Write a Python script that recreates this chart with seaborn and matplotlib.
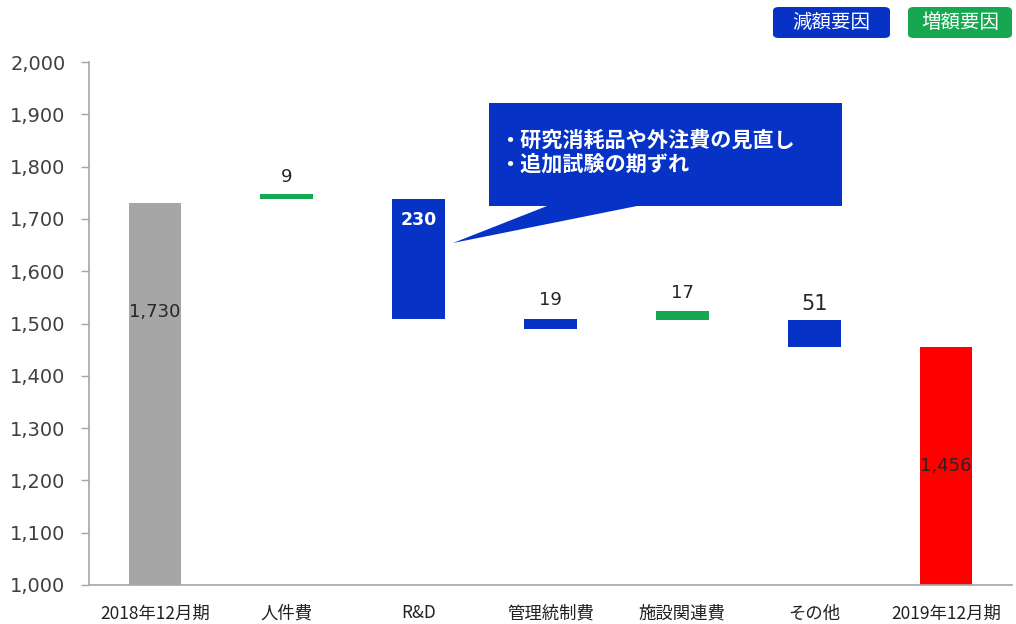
import matplotlib
matplotlib.use("Agg")
import matplotlib.pyplot as plt
from matplotlib.patches import Polygon, FancyBboxPatch
from matplotlib.ticker import FuncFormatter, MultipleLocator
import seaborn as sns

# ---- data ----
categories = ["2018年12月期", "人件費", "R&D", "管理統制費", "施設関連費", "その他", "2019年12月期"]
values = [1730, 9, -230, -19, 17, -51, 1456]
bar_base = [0, 1739, 1509, 1490, 1507, 1456, 0]
bar_colors = ["#A6A6A6", "#16A850", "#0632C6", "#0632C6", "#16A850", "#0632C6", "#FF0000"]
value_labels = ["1,730", "9", "230", "19", "17", "51", "1,456"]
callout_lines = ["・研究消耗品や外注費の見直し", "・追加試験の期ずれ"]
legend_items = ["減額要因", "増額要因"]
legend_colors = ["#0632C6", "#16A850"]

heights = [abs(v) for v in values]

sns.set_theme(style="white")
plt.rcParams["font.family"] = ["DejaVu Sans", "Noto Sans CJK JP"]

W, H = 1016, 624
fig = plt.figure(figsize=(W / 100, H / 100), dpi=100)
ax = fig.add_axes([89 / W, 1 - 585 / H, (1012 - 89) / W, (585 - 62) / H])

sns.barplot(x=categories, y=heights, bottom=bar_base, order=categories,
            color="#A6A6A6", width=0.40, saturation=1, ax=ax)
for patch, c in zip(ax.patches, bar_colors):
    patch.set_facecolor(c)
    patch.set_edgecolor("none")

ax.set_xlim(-0.5, len(categories) - 0.5)
ax.set_ylim(1000, 2000)
ax.yaxis.set_major_locator(MultipleLocator(100))
ax.yaxis.set_major_formatter(FuncFormatter(lambda v, p: f"{int(v):,}"))

for s in ["top", "right"]:
    ax.spines[s].set_visible(False)
for s in ["left", "bottom"]:
    ax.spines[s].set_color("#A6A6A6")
    ax.spines[s].set_linewidth(1.2)

ax.tick_params(axis="y", which="major", left=True, length=6, width=1, color="#A6A6A6",
               labelsize=14, labelcolor="#404040", pad=11)
ax.tick_params(axis="x", bottom=False, labelsize=12.5, labelcolor="#222222", pad=8)
for lbl in ax.get_xticklabels():
    lbl.set_fontfamily(["Noto Sans CJK JP", "DejaVu Sans"])
ax.set_xlabel("")
ax.set_ylabel("")

# ---- value labels ----
tops = [b + h for b, h in zip(bar_base, heights)]
ax.text(0, 1522, value_labels[0], ha="center", va="center", fontsize=13, color="#262626")
ax.text(6, (1000 + tops[6]) / 2, value_labels[6], ha="center", va="center", fontsize=13, color="#262626")
ax.annotate(value_labels[2], (2, tops[2]), xytext=(0, -21), textcoords="offset pixels",
            ha="center", va="center", fontsize=12.5, fontweight="bold", color="white")
for i, off, fs in [(1, 17, 13), (3, 19, 13), (4, 18, 13), (5, 16, 15)]:
    ax.annotate(value_labels[i], (i, tops[i]), xytext=(0, off), textcoords="offset pixels",
                ha="center", va="center", fontsize=fs, color="#262626")

# ---- callout ----
def fp(x, y):
    return (x / W, 1 - y / H)

pts = [(489, 103), (842, 103), (842, 206), (637, 206), (453, 243), (547, 206), (489, 206)]
fig.patches.append(Polygon([fp(*p) for p in pts], closed=True, transform=fig.transFigure,
                           facecolor="#0632C6", edgecolor="none"))
for k, line in enumerate(callout_lines):
    x, y = fp(499, 140 + 24 * k)
    fig.text(x, y, line, ha="left", va="center", fontsize=15.2, fontweight="bold",
             color="white", family=["Noto Sans CJK JP", "DejaVu Sans"])

# ---- legend boxes ----
boxes = [(773, 890), (908, 1012)]
for (x0, x1), txt, c in zip(boxes, legend_items, legend_colors):
    bx, by = fp(x0, 38)
    bw, bh = (x1 - x0) / W, 31 / H
    fig.patches.append(FancyBboxPatch((bx, by), bw, bh, transform=fig.transFigure,
                                      boxstyle="round,pad=0,rounding_size=0.006",
                                      facecolor=c, edgecolor="none"))
    tx, ty = fp((x0 + x1) / 2, 22)
    fig.text(tx, ty, txt, ha="center", va="center", fontsize=14, color="white",
             family=["Noto Sans CJK JP", "DejaVu Sans"])

fig.savefig("out.png", dpi=100)
